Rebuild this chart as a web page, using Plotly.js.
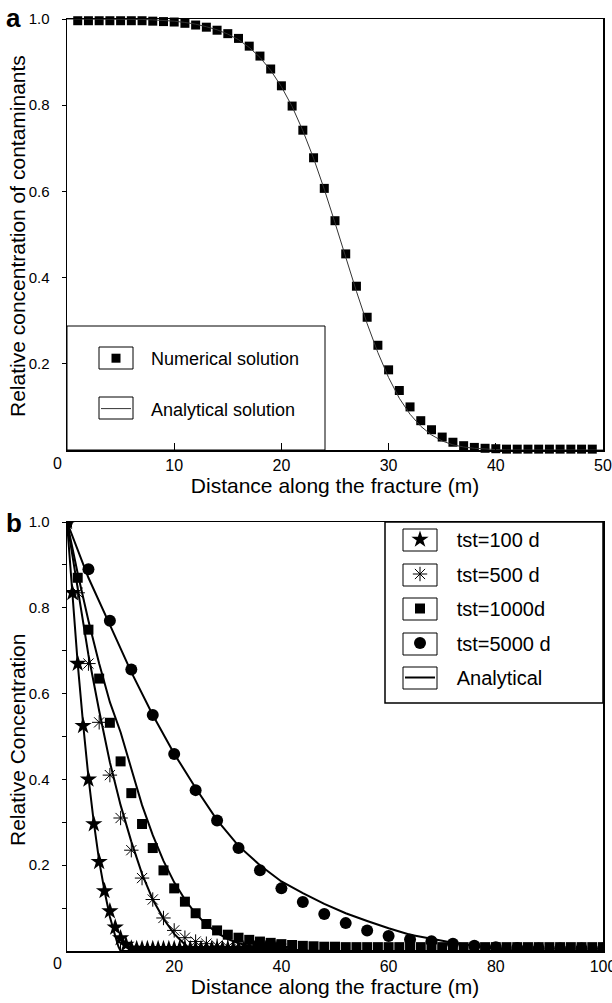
<!DOCTYPE html>
<html><head><meta charset="utf-8">
<script src="https://cdn.plot.ly/plotly-3.0.1.min.js"></script>
<style>body{margin:0;padding:0;background:#fff}#chart{width:612px;height:1003px}</style>
</head><body><div id="chart"></div>
<script>
// ---------- Panel a ----------
var numX = [1,2,3,4,5,6,7,8,9,10,11,12,13,14,15,16,17,18,19,20,21,22,23,24,25,26,27,28,29,30,31,32,33,34,35,36,37,38,39,40,41,42,43,44,45,46,47,48,49];
var numY = [0.996,0.996,0.996,0.996,0.996,0.996,0.996,0.995,0.994,0.993,0.990,0.986,0.981,0.974,0.966,0.955,0.937,0.914,0.884,0.845,0.798,0.742,0.678,0.607,0.532,0.455,0.380,0.308,0.243,0.186,0.138,0.100,0.068,0.047,0.030,0.018,0.010,0.006,0.004,0.003,0.002,0.002,0.002,0.002,0.002,0.002,0.002,0.002,0.002];
var anaX = [0,1,2,3,4,5,6,7,8,9,10,11,12,13,14,15,16,17,18,19,20,21,22,23,24,25,26,27,28,29,30,31,32,33,34,35,36,37,38,39,40,41,42,43,44,45,46,47,48,49,50];
var anaY = [1.0,1.0,1.0,1.0,1.0,1.0,0.999,0.999,0.998,0.997,0.995,0.992,0.988,0.982,0.975,0.965,0.952,0.934,0.911,0.881,0.843,0.797,0.741,0.677,0.605,0.527,0.447,0.368,0.293,0.226,0.168,0.120,0.083,0.055,0.035,0.021,0.012,0.007,0.004,0.002,0.001,0,0,0,0,0,0,0,0,0,0];

// ---------- Panel b ----------
var t100X = [0,1,2,3,4,5,6,7,8,9,10,11,12,13,14,15,16,17,18,19,20,21,22,23,24,25,26,27,28,29,30,31,32,33,34,35,36,37,38,39,40];
var t100Y = [1.0,0.835,0.67,0.525,0.40,0.296,0.208,0.14,0.093,0.055,0.03,0.015,0.006,0.005,0.005,0.005,0.005,0.005,0.005,0.005,0.005,0.005,0.005,0.005,0.005,0.005,0.005,0.005,0.005,0.005,0.005,0.005,0.005,0.005,0.005,0.005,0.005,0.005,0.005,0.005,0.005];
var t500X = [0,2,4,6,8,10,12,14,16,18,20,22,24,26,28,30,32,34,36,38,40];
var t500Y = [1.0,0.835,0.67,0.533,0.41,0.31,0.235,0.17,0.12,0.077,0.048,0.031,0.022,0.017,0.012,0.009,0.007,0.006,0.005,0.005,0.005];
var t1000X = [0,2,4,6,8,10,12,14,16,18,20,22,24,26,28,30,32,34,36,38,40,42,44,46,48,50,52,54,56,58,60,62,64,66,68,70,72,74,76,78,80,82,84,86,88,90,92,94,96,98,100];
var t1000Y = [1.0,0.87,0.749,0.635,0.532,0.442,0.368,0.296,0.24,0.188,0.146,0.115,0.088,0.063,0.048,0.038,0.031,0.026,0.022,0.019,0.016,0.014,0.012,0.011,0.010,0.010,0.009,0.009,0.009,0.009,0.009,0.009,0.009,0.009,0.009,0.009,0.009,0.009,0.009,0.009,0.009,0.009,0.009,0.009,0.009,0.009,0.009,0.009,0.009,0.009,0.009];
var t5000X = [0,4,8,12,16,20,24,28,32,36,40,44,48,52,56,60,64,68,72,76,80,84,88,92,96,100];
var t5000Y = [1.0,0.89,0.77,0.656,0.55,0.459,0.375,0.304,0.24,0.188,0.146,0.114,0.086,0.065,0.048,0.035,0.027,0.023,0.017,0.012,0.009,0.007,0.006,0.006,0.006,0.006];

var a100X = [0,1,2,3,4,5,6,7,8,9,9.6,10,100];
var a100Y = [1.0,0.83,0.67,0.53,0.405,0.30,0.21,0.14,0.08,0.035,0.01,0,0];
var a500X = [0,2,4,6,8,10,12,14,16,18,20,22,23.5,100];
var a500Y = [1.0,0.84,0.69,0.56,0.44,0.34,0.255,0.18,0.12,0.075,0.04,0.015,0,0];
var a1000X = [0,2,4,6,8,10,12,14,16,18,20,22,24,26,28,30,32,34,36,40,45,50,100];
var a1000Y = [1.0,0.88,0.77,0.67,0.58,0.51,0.425,0.34,0.27,0.21,0.16,0.12,0.087,0.062,0.042,0.028,0.018,0.012,0.008,0.004,0.001,0,0];
var a5000X = [0,4,8,12,16,20,24,28,32,36,40,44,48,52,56,60,64,68,72,76,80,84,100];
var a5000Y = [1.0,0.87,0.76,0.65,0.55,0.46,0.38,0.305,0.245,0.20,0.162,0.135,0.11,0.088,0.07,0.053,0.038,0.028,0.019,0.012,0.006,0,0];

var xTicksA = [10,20,30,40,50];
var xTicksB = [20,40,60,80,100];
var yTicks = [0.2,0.4,0.6,0.8,1.0];
var yTickText = ['0.2','0.4','0.6','0.8','1.0'];

var W = 612, H = 1003;
var BLK = '#000';
var traces = [
  {x: numX, y: numY, xaxis:'x', yaxis:'y', mode:'markers', name:'\u00a0\u00a0\u00a0Numerical solution',
   marker:{symbol:'square', size:9, color:BLK}, cliponaxis:false, legend:'legend', legendgroup:'a1', legendrank:1},
  {x: anaX, y: anaY, xaxis:'x', yaxis:'y', mode:'lines', name:'\u00a0\u00a0\u00a0Analytical solution',
   line:{color:'#333', width:1}, legend:'legend', legendgroup:'a2', legendrank:2},

  {x: a100X, y: a100Y, xaxis:'x2', yaxis:'y2', mode:'lines', showlegend:false, line:{color:BLK, width:2}},
  {x: a500X, y: a500Y, xaxis:'x2', yaxis:'y2', mode:'lines', showlegend:false, line:{color:BLK, width:2}},
  {x: a1000X, y: a1000Y, xaxis:'x2', yaxis:'y2', mode:'lines', showlegend:false, line:{color:BLK, width:2}},
  {x: t100X, y: t100Y, xaxis:'x2', yaxis:'y2', mode:'markers', name:'\u00a0\u00a0\u00a0tst=100 d',
   marker:{symbol:'star', size:13, color:BLK}, legend:'legend2', legendgroup:'b1', legendrank:1},
  {x: t500X, y: t500Y, xaxis:'x2', yaxis:'y2', mode:'markers', name:'\u00a0\u00a0\u00a0tst=500 d',
   marker:{symbol:'asterisk-open', size:12, color:BLK, line:{color:BLK, width:1}}, legend:'legend2', legendgroup:'b2', legendrank:2},
  {x: t1000X, y: t1000Y, xaxis:'x2', yaxis:'y2', mode:'markers', name:'\u00a0\u00a0\u00a0tst=1000d',
   marker:{symbol:'square', size:10, color:BLK}, legend:'legend2', legendgroup:'b3', legendrank:3},
  {x: t5000X, y: t5000Y, xaxis:'x2', yaxis:'y2', mode:'markers', name:'\u00a0\u00a0\u00a0tst=5000 d',
   marker:{symbol:'circle', size:12, color:BLK}, legend:'legend2', legendgroup:'b4', legendrank:4},
  {x: a5000X, y: a5000Y, xaxis:'x2', yaxis:'y2', mode:'lines', name:'\u00a0\u00a0\u00a0Analytical', line:{color:BLK, width:2},
   legend:'legend2', legendgroup:'b5', legendrank:5}
];

function px2x(p){return p/W;}
function px2y(p){return (H-p)/H;}
var xDom = [px2x(67), px2x(603)];
var yDomA = [px2y(450), px2y(19)];
var yDomB = [px2y(951), px2y(522)];
var fontFam = 'Liberation Sans, Arial, sans-serif';
var axCommon = {showline:true, mirror:true, linecolor:BLK, linewidth:1.5, showgrid:false, zeroline:false,
  tickfont:{family:fontFam, size:15, color:BLK}, tickcolor:BLK, ticklabeloverflow:'allow'};

var layout = {
  width:W, height:H, margin:{l:0,r:0,t:0,b:0}, paper_bgcolor:'#fff', plot_bgcolor:'#fff',
  font:{family:fontFam, color:BLK},
  xaxis: Object.assign({}, axCommon, {domain:xDom, anchor:'y', range:[0,50], tickvals:xTicksA, ticks:'inside', ticklen:7,
    tickfont:{family:fontFam, size:16, color:BLK},
    title:{text:'Distance along the fracture (m)', font:{size:21}, standoff:3}}),
  yaxis: Object.assign({}, axCommon, {domain:yDomA, anchor:'x', range:[0,1], tickvals:yTicks, ticktext:yTickText, ticks:'outside', ticklen:4, ticklabelstandoff:9}),
  xaxis2: Object.assign({}, axCommon, {domain:xDom, anchor:'y2', range:[0,100], tickvals:xTicksB, ticks:'inside', ticklen:7,
    tickfont:{family:fontFam, size:16, color:BLK},
    minor:{tickvals:[10,30,50,70,90], ticks:'inside', ticklen:7, tickcolor:BLK},
    title:{text:'Distance along the fracture (m)', font:{size:21}, standoff:3}}),
  yaxis2: Object.assign({}, axCommon, {domain:yDomB, anchor:'x2', range:[0,1], tickvals:yTicks, ticktext:yTickText, ticks:'outside', ticklen:4, ticklabelstandoff:9,
    minor:{tickvals:[0.1,0.3,0.5,0.7,0.9], ticks:'outside', ticklen:4, tickcolor:BLK}}),
  legend:{x:px2x(96), y:px2y(340), xanchor:'left', yanchor:'top', bgcolor:'rgba(0,0,0,0)', borderwidth:0,
    font:{size:18, family:fontFam, color:BLK}, tracegroupgap:24, itemwidth:30, traceorder:'grouped'},
  legend2:{x:px2x(400), y:px2y(520), xanchor:'left', yanchor:'top', bgcolor:'rgba(0,0,0,0)', borderwidth:0,
    font:{size:20, family:fontFam, color:BLK}, tracegroupgap:5.5, itemwidth:30, traceorder:'grouped'},
  shapes:[
    {type:'rect', xref:'x domain', yref:'y domain', x0:0, x1:258/536, y0:0, y1:(450-326)/431, line:{color:BLK,width:1}},
    {type:'rect', xref:'paper', yref:'paper', x0:px2x(99), x1:px2x(133), y0:px2y(369), y1:px2y(347), line:{color:BLK,width:1}},
    {type:'rect', xref:'paper', yref:'paper', x0:px2x(99), x1:px2x(133), y0:px2y(419), y1:px2y(397), line:{color:BLK,width:1}},
    {type:'rect', xref:'x2 domain', yref:'y2 domain', x0:318/536, x1:1, y0:(951-703)/429, y1:1, line:{color:BLK,width:1.5}},
    {type:'rect', xref:'paper', yref:'paper', x0:px2x(403), x1:px2x(437), y0:px2y(551), y1:px2y(529), line:{color:BLK,width:1}},
    {type:'rect', xref:'paper', yref:'paper', x0:px2x(403), x1:px2x(437), y0:px2y(586), y1:px2y(564), line:{color:BLK,width:1}},
    {type:'rect', xref:'paper', yref:'paper', x0:px2x(403), x1:px2x(437), y0:px2y(620), y1:px2y(598), line:{color:BLK,width:1}},
    {type:'rect', xref:'paper', yref:'paper', x0:px2x(403), x1:px2x(437), y0:px2y(655), y1:px2y(633), line:{color:BLK,width:1}},
    {type:'rect', xref:'paper', yref:'paper', x0:px2x(403), x1:px2x(437), y0:px2y(689), y1:px2y(667), line:{color:BLK,width:1}}
  ],
  annotations:[
    {text:'<b>a</b>', xref:'paper', yref:'paper', x:px2x(14), y:px2y(18), showarrow:false, font:{size:26}, xanchor:'center', yanchor:'middle'},
    {text:'<b>b</b>', xref:'paper', yref:'paper', x:px2x(14), y:px2y(523), showarrow:false, font:{size:26}, xanchor:'center', yanchor:'middle'},
    {text:'0', xref:'paper', yref:'paper', x:px2x(57), y:px2y(464), showarrow:false, font:{size:16}, xanchor:'center', yanchor:'middle'},
    {text:'0', xref:'paper', yref:'paper', x:px2x(57), y:px2y(963), showarrow:false, font:{size:16}, xanchor:'center', yanchor:'middle'},
    {text:'Relative concentration of contaminants', xref:'paper', yref:'paper', x:px2x(17), y:px2y(236), textangle:-90,
     showarrow:false, font:{size:21}, xanchor:'center', yanchor:'middle'},
    {text:'Relative Concentration', xref:'paper', yref:'paper', x:px2x(17), y:px2y(740), textangle:-90,
     showarrow:false, font:{size:21}, xanchor:'center', yanchor:'middle'}
  ]
};

Plotly.newPlot('chart', traces, layout, {displayModeBar:false, staticPlot:true});
</script>
</body></html>
